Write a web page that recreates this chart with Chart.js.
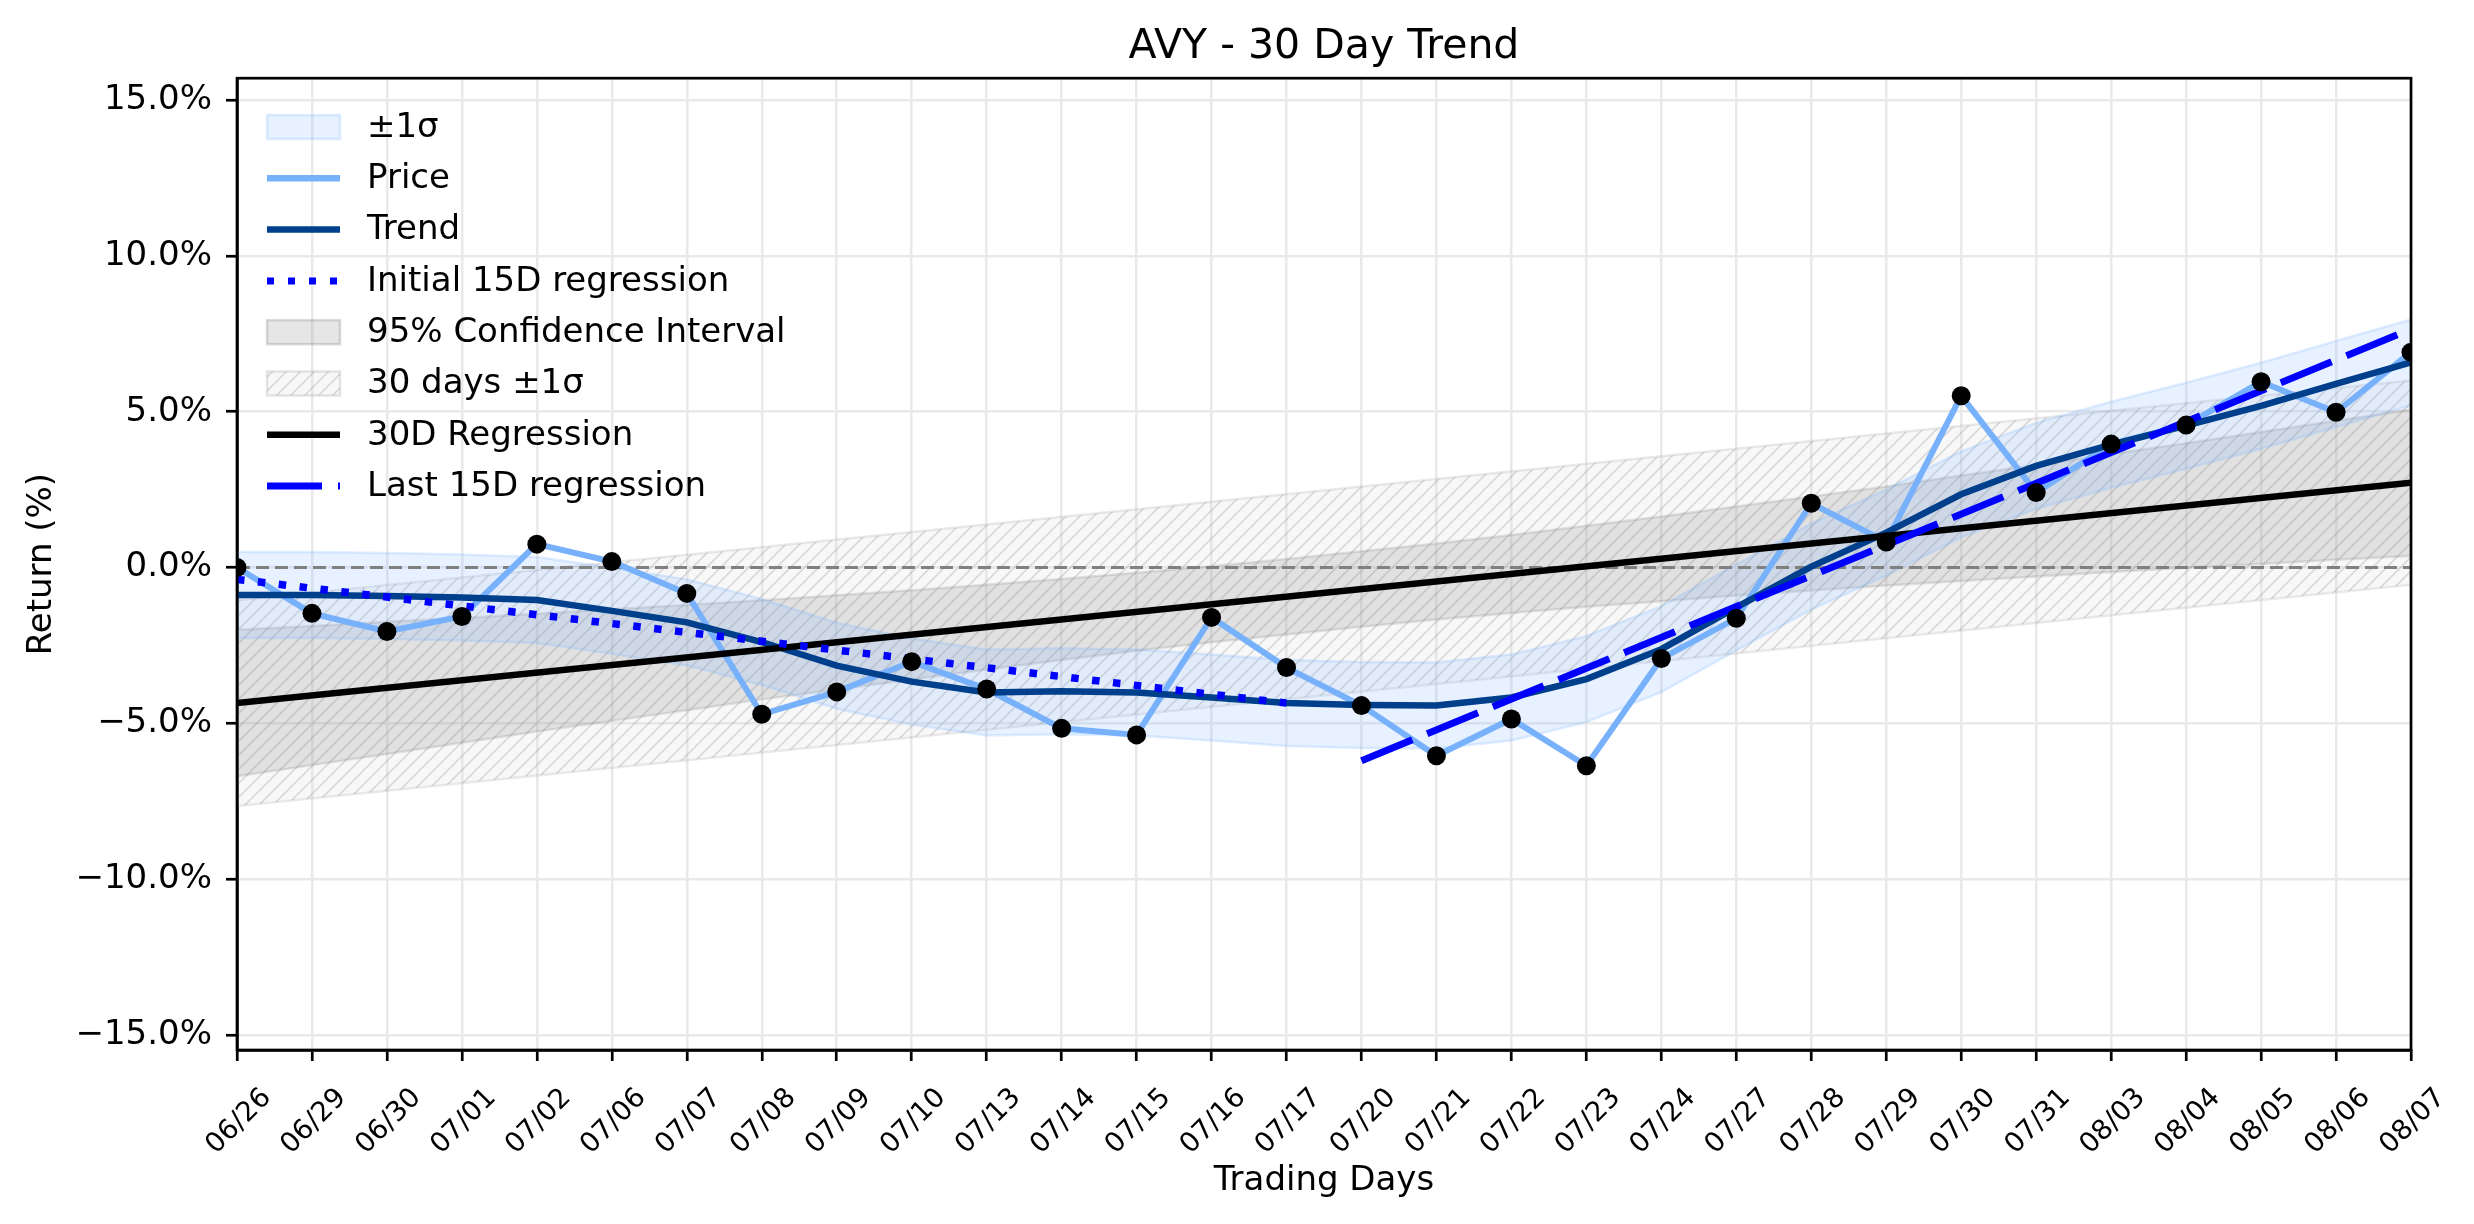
<!DOCTYPE html>
<html>
<head>
<meta charset="utf-8">
<script src="https://cdn.jsdelivr.net/npm/chart.js@4.4.1/dist/chart.umd.min.js"></script>
<style>
  html, body { margin: 0; padding: 0; background: #fff; }
  #wrap { width: 2474px; height: 1224px; }
</style>
</head>
<body>
<div id="wrap"><canvas id="trendChart" width="2474" height="1224"></canvas></div>
<script>
// Handelsdagar (x-axeln)
const days = ['06/26', '06/29', '06/30', '07/01', '07/02', '07/06', '07/07', '07/08', '07/09', '07/10',
    '07/13', '07/14', '07/15', '07/16', '07/17', '07/20', '07/21', '07/22', '07/23', '07/24',
    '07/27', '07/28', '07/29', '07/30', '07/31', '08/03', '08/04', '08/05', '08/06', '08/07'];

// Avkastning i procent
const price = [0.00, -1.47, -2.05, -1.57, 0.75, 0.19, -0.83, -4.71, -3.99, -3.02,
    -3.90, -5.16, -5.37, -1.60, -3.21, -4.43, -6.04, -4.86, -6.36, -2.92,
    -1.63, 2.06, 0.82, 5.51, 2.41, 3.96, 4.57, 5.96, 4.98, 6.91];

const trend = [-0.88, -0.88, -0.91, -0.96, -1.04, -1.39, -1.76, -2.39, -3.15, -3.66,
    -4.01, -3.97, -4.01, -4.17, -4.35, -4.41, -4.43, -4.17, -3.58, -2.62,
    -1.28, 0.03, 1.12, 2.35, 3.26, 3.94, 4.55, 5.19, 5.89, 6.58];

// ±1σ runt trenden
const sigmaUpper = [0.50, 0.50, 0.47, 0.42, 0.34, -0.01, -0.38, -1.01, -1.77, -2.28,
    -2.63, -2.59, -2.63, -2.79, -2.97, -3.03, -3.05, -2.79, -2.20, -1.24,
    0.10, 1.41, 2.50, 3.73, 4.64, 5.32, 5.93, 6.57, 7.27, 7.96];
const sigmaLower = [-2.26, -2.26, -2.29, -2.34, -2.42, -2.77, -3.14, -3.77, -4.53, -5.04,
    -5.39, -5.35, -5.39, -5.55, -5.73, -5.79, -5.81, -5.55, -4.96, -4.00,
    -2.66, -1.35, -0.26, 0.97, 1.88, 2.56, 3.17, 3.81, 4.51, 5.20];

// 95% konfidensintervall för 30D-regressionen
const ciUpper = [-2.00, -1.88, -1.74, -1.62, -1.48, -1.34, -1.20, -1.05, -0.89, -0.73,
    -0.55, -0.37, -0.17, 0.04, 0.27, 0.52, 0.77, 1.04, 1.34, 1.64,
    1.96, 2.28, 2.60, 2.95, 3.29, 3.64, 3.99, 4.35, 4.71, 5.07];
const ciLower = [-6.70, -6.34, -5.98, -5.62, -5.26, -4.92, -4.58, -4.23, -3.91, -3.59,
    -3.27, -2.97, -2.67, -2.40, -2.15, -1.90, -1.67, -1.46, -1.26, -1.08,
    -0.90, -0.74, -0.58, -0.43, -0.29, -0.14, -0.01, 0.11, 0.25, 0.37];

// Regressionslinjer: [start, slut]
const reg30 = [-4.35, 2.72];
const band30Upper = [-1.05, 6.00];
const band30Lower = [-7.65, -0.55];
const regFirst15 = [-0.38, -4.35];
const regLast15 = [-6.20, 7.65];

const yTicks = [-15, -10, -5, 0, 5, 10, 15];
const yTickLabels = ['\u221215.0%', '\u221210.0%', '\u22125.0%', '0.0%', '5.0%', '10.0%', '15.0%'];

// Färger
const priceColor = '#78b1fb';
const trendColor = '#003f8c';
const sigmaFill = 'rgba(120, 178, 255, 0.18)';
const sigmaEdge = 'rgba(120, 178, 255, 0.22)';
const ciFill = 'rgba(128, 128, 128, 0.2)';
const ciEdge = 'rgba(110, 110, 110, 0.18)';

Chart.defaults.font.family = "'DejaVu Sans', sans-serif";
Chart.defaults.color = '#000';

const canvas = document.getElementById('trendChart');
const ctx = canvas.getContext('2d');

// Snedstreckat mönster för 30-dagarsbandet
function makeHatch() {
    const c = document.createElement('canvas');
    c.width = 14;
    c.height = 14;
    const g = c.getContext('2d');
    g.fillStyle = 'rgba(215, 215, 215, 0.18)';
    g.fillRect(0, 0, 14, 14);
    g.strokeStyle = 'rgba(150, 150, 150, 0.32)';
    g.lineWidth = 1.6;
    g.beginPath();
    g.moveTo(-1, 15); g.lineTo(15, -1);
    g.moveTo(-8, 8); g.lineTo(8, -8);
    g.moveTo(6, 22); g.lineTo(22, 6);
    g.stroke();
    return ctx.createPattern(c, 'repeat');
}
const hatch = makeHatch();
const hatchEdge = 'rgba(150, 150, 150, 0.2)';

const first = days[0], last = days[days.length - 1];
const seg = (a, b, vals) => [{ x: a, y: vals[0] }, { x: b, y: vals[1] }];

const legendItems = [
    { text: '\u00b11\u03c3', patch: sigmaFill, edge: sigmaEdge },
    { text: 'Price', color: priceColor, width: 6.5 },
    { text: 'Trend', color: trendColor, width: 6.5 },
    { text: 'Initial 15D regression', color: '#0000ff', width: 7, dash: [7, 14] },
    { text: '95% Confidence Interval', patch: ciFill, edge: 'rgba(110,110,110,0.25)' },
    { text: '30 days \u00b11\u03c3', patch: hatch, edge: 'rgba(150,150,150,0.25)' },
    { text: '30D Regression', color: '#000', width: 6.5 },
    { text: 'Last 15D regression', color: '#0000ff', width: 7, dash: [55, 16] }
];

// Legend inne i diagrammet, uppe till vänster
const legendBox = {
    id: 'legendBox',
    afterDraw(chart) {
        const c = chart.ctx;
        const x0 = 267, x1 = 340, tx = 367, y0 = 127, step = 51.3;
        c.save();
        c.font = "34px 'DejaVu Sans'";
        c.textBaseline = 'middle';
        legendItems.forEach((item, i) => {
            const y = y0 + i * step;
            if (item.patch) {
                c.fillStyle = item.patch;
                c.fillRect(x0, y - 12, x1 - x0, 24);
                c.strokeStyle = item.edge;
                c.lineWidth = 2.5;
                c.strokeRect(x0, y - 12, x1 - x0, 24);
            } else {
                c.setLineDash(item.dash || []);
                c.strokeStyle = item.color;
                c.lineWidth = item.width;
                c.lineCap = 'butt';
                c.beginPath();
                c.moveTo(x0, y);
                c.lineTo(x1, y);
                c.stroke();
                c.setLineDash([]);
            }
            c.fillStyle = '#000';
            c.fillText(item.text, tx, y + 1);
        });
        c.restore();
    }
};

// Ram runt hela plotytan
const frame = {
    id: 'frame',
    afterDatasetsDraw(chart) {
        const { left, top, width, height } = chart.chartArea;
        const c = chart.ctx;
        c.save();
        c.strokeStyle = '#000';
        c.lineWidth = 2.7;
        c.strokeRect(left, top, width, height);
        c.restore();
    }
};

const bandLine = (data, color, fill, bg, order) => ({
    data, borderColor: color, borderWidth: 2.5, pointRadius: 0,
    fill, backgroundColor: bg, order, clip: 0, tension: 0
});

new Chart(ctx, {
    type: 'line',
    data: {
        labels: days,
        datasets: [
            bandLine(seg(first, last, band30Lower), hatchEdge, false, 'transparent', 20),
            bandLine(seg(first, last, band30Upper), hatchEdge, '-1', hatch, 19),
            bandLine(ciLower, ciEdge, false, 'transparent', 18),
            bandLine(ciUpper, ciEdge, '-1', ciFill, 17),
            bandLine(sigmaLower, sigmaEdge, false, 'transparent', 16),
            bandLine(sigmaUpper, sigmaEdge, '-1', sigmaFill, 15),
            {
                data: seg(first, last, [0, 0]), borderColor: '#808080', borderWidth: 3,
                borderDash: [13, 6], pointRadius: 0, order: 10, clip: 0
            },
            { data: price, borderColor: priceColor, borderWidth: 6, pointRadius: 0, order: 8, clip: 0 },
            { data: trend, borderColor: trendColor, borderWidth: 6.5, pointRadius: 0, order: 7, clip: 0 },
            { data: seg(first, last, reg30), borderColor: '#000', borderWidth: 6.5, pointRadius: 0, order: 6, clip: 0 },
            {
                data: seg(first, days[14], regFirst15), borderColor: '#0000ff', borderWidth: 7.5,
                borderDash: [7.5, 13.5], pointRadius: 0, order: 5, clip: 0
            },
            {
                data: seg(days[15], last, regLast15), borderColor: '#0000ff', borderWidth: 7,
                borderDash: [55, 16], pointRadius: 0, order: 4, clip: 0
            },
            {
                data: price, showLine: false, pointRadius: 9.5, pointBackgroundColor: '#000',
                pointBorderWidth: 0, order: 0, clip: 0
            }
        ]
    },
    options: {
        responsive: false,
        devicePixelRatio: 1,
        animation: false,
        events: [],
        layout: { padding: { left: 0, right: 63, top: 0, bottom: 0 } },
        scales: {
            x: {
                type: 'category',
                offset: false,
                grid: { color: '#e9e9e9', lineWidth: 2.5, tickColor: '#000', tickWidth: 2.7, tickLength: 11 },
                border: { color: '#000', width: 2.7 },
                ticks: {
                    autoSkip: false, maxRotation: 45, minRotation: 45, padding: 21, labelOffset: 30,
                    font: { size: 27.5 }, color: '#000'
                },
                title: { display: true, text: 'Trading Days', font: { size: 34 }, padding: { top: 0, bottom: 22 } },
                afterFit: (scale) => { scale.height = 174; }
            },
            y: {
                min: -15.48,
                max: 15.7,
                grid: { color: '#e9e9e9', lineWidth: 2.5, tickColor: '#000', tickWidth: 2.7, tickLength: 11 },
                border: { color: '#000', width: 2.7 },
                afterBuildTicks: (scale) => { scale.ticks = yTicks.map(v => ({ value: v })); },
                ticks: {
                    padding: 14, font: { size: 34 }, color: '#000',
                    callback: (v) => yTickLabels[yTicks.indexOf(v)]
                },
                title: { display: true, text: 'Return (%)', font: { size: 34 }, padding: { top: 22, bottom: 0 } },
                afterFit: (scale) => { scale.width = 237; }
            }
        },
        plugins: {
            legend: { display: false },
            tooltip: { enabled: false },
            title: {
                display: true, fullSize: false, text: 'AVY - 30 Day Trend', color: '#000',
                font: { size: 41, weight: 'normal' }, padding: { top: 23, bottom: 6 }
            }
        }
    },
    plugins: [frame, legendBox]
});
</script>
</body>
</html>
